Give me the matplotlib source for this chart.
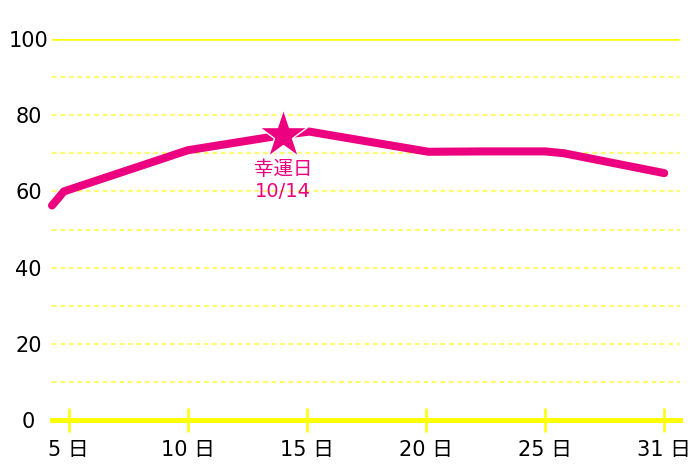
import matplotlib
matplotlib.use('Agg')
import matplotlib.pyplot as plt

# data (x = day position, y = score)
days = [4.3, 4.8, 10.0, 14.0, 15.1, 20.1, 22.5, 25.0, 25.8, 30.0]
scores = [56.3, 60.0, 70.8, 74.8, 75.7, 70.4, 70.5, 70.5, 70.0, 64.8]
tick_pos = [5, 10, 15, 20, 25, 30]
tick_labels = ['5 日', '10 日', '15 日', '20 日', '25 日', '31 日']
y_ticks = [0, 20, 40, 60, 80, 100]
minor_lines = [10, 20, 30, 40, 50, 60, 70, 80, 90]
lucky_day = 14.0
lucky_score = 74.8
lucky_text = '幸運日\n10/14'

PINK = '#ec0080'
YELLOW = '#ffff00'
LIGHT_YELLOW = '#fffa6e'

# latin glyphs from DejaVu (wider digits), kanji from Noto CJK
plt.rcParams['font.family'] = ['DejaVu Sans', 'Noto Sans CJK JP']

fig = plt.figure(figsize=(7, 4.67), dpi=100)
ax = fig.add_axes([0.0743, 0.1006, 0.8967, 0.8159])
ax.set_xlim(4.3, 30.65)
ax.set_ylim(0, 100)

# grid lines
for v in minor_lines:
    ax.axhline(v, color=LIGHT_YELLOW, lw=1.6, ls=(0, (2.1, 1.7)), zorder=1)
ax.axhline(100, color=YELLOW, lw=1.8, zorder=1)

# bottom axis line
for s in ['top', 'right', 'left']:
    ax.spines[s].set_visible(False)
ax.spines['bottom'].set_color(YELLOW)
ax.spines['bottom'].set_linewidth(3.6)
ax.spines['bottom'].set_zorder(2)

ax.set_xticks(tick_pos)
ax.set_xticklabels(tick_labels)
ax.set_yticks(y_ticks)
ax.tick_params(axis='x', direction='inout', length=17, width=1.8, color=YELLOW,
               labelsize=15, pad=6)
ax.tick_params(axis='y', length=0, labelsize=15, pad=17)
for lab in ax.get_yticklabels():
    lab.set_horizontalalignment('center')

# score line
ax.plot(days, scores, color=PINK, lw=5.8, solid_capstyle='round',
        solid_joinstyle='round', zorder=3, clip_on=False)

# lucky day star
ax.plot([lucky_day], [lucky_score], marker='*', ms=37, color=PINK,
        markeredgecolor='white', markeredgewidth=1, zorder=4)
ax.annotate(lucky_text, (lucky_day, lucky_score), xytext=(0, -18),
            textcoords='offset points', ha='center', va='top',
            color=PINK, fontsize=14, linespacing=1.2)

fig.savefig('out.png', dpi=100)
